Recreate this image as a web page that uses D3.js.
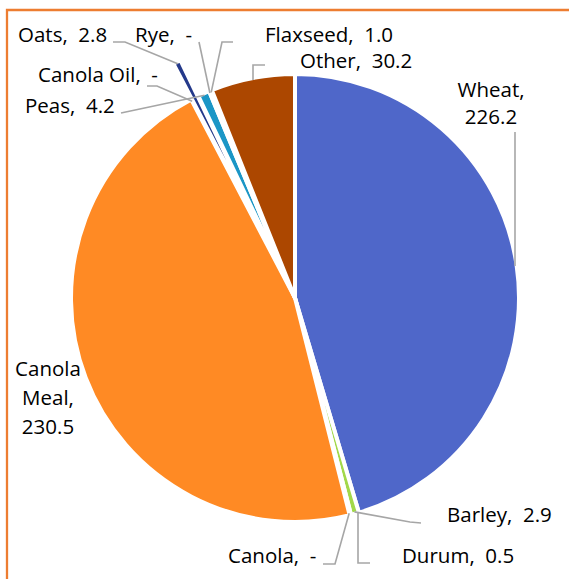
<!DOCTYPE html>
<html>
<head>
<meta charset="utf-8">
<script src="https://cdn.jsdelivr.net/npm/d3@7"></script>
<style>
  html, body { margin: 0; padding: 0; background: #fff; }
  svg { display: block; }
  text { font-family: "Open Sans", "Liberation Sans", sans-serif; font-size: 20.5px; fill: #000; }
</style>
</head>
<body>
<svg id="chart" width="569" height="579"></svg>
<script>
// ---- data ----
const categories = ["Wheat", "Barley", "Durum", "Canola", "Canola Meal", "Canola Oil", "Oats", "Peas", "Rye", "Flaxseed", "Other"];
const values     = [226.2, 2.9, 0.5, 0, 230.5, 0, 2.8, 4.2, 0, 1.0, 30.2];
const colors     = ["#4F67C9", "#A2D84A", "#7F7F7F", "#5B9BD5", "#FF8A24", "#FFC000", "#24398A", "#1B96C6", "#70AD47", "#FFFFFF", "#AC4700"];
const explodePx  = [0, 0, 0, 0, 0, 0, 40, 0, 0, 0, 0];

// ---- label layout (positions only) ----
const labelLayout = {
  "Wheat":       { lines: 2, x: 491, y: 97, anchor: "middle", lead: [[515, 132]], vertical: true },
  "Barley":      { x: 447, y: 522, anchor: "start", lead: [[421, 523], [410, 522]] },
  "Durum":       { x: 402, y: 563, anchor: "start", lead: [[370, 563], [358, 563]], vertical: true },
  "Canola":      { x: 228, y: 563, anchor: "start", lead: [[323, 564], [335, 564]] },
  "Canola Meal": { lines: 3, x: 48, y: 376, anchor: "middle", lead: null },
  "Canola Oil":  { x: 38, y: 82, anchor: "start", lead: [[147, 86], [157, 86]] },
  "Oats":        { x: 18, y: 42, anchor: "start", lead: [[113, 42], [125, 42]] },
  "Peas":        { x: 25, y: 113, anchor: "start", lead: [[121, 113]] },
  "Rye":         { x: 135, y: 42, anchor: "start", lead: [[199, 42]] },
  "Flaxseed":    { x: 265, y: 42, anchor: "start", lead: [[233, 42], [222, 42]] },
  "Other":       { x: 300, y: 68, anchor: "start", lead: [[265, 65], [253, 65]], vertical: true }
};

const fmt = v => v === 0 ? "-" : d3.format(".1f")(v);

const svg = d3.select("#chart");
const cx = 295, cy = 298, R = 224, Rvis = 222;

// frame (partially cropped)
svg.append("path")
  .attr("d", d3.line()([[7, 579], [7, 10], [569, 10]]))
  .attr("fill", "none").attr("stroke", "#ED7D31").attr("stroke-width", 2.3);

const data = categories.map((c, i) => ({ name: c, value: values[i], color: colors[i], explode: explodePx[i] }));
const pie = d3.pie().sort(null).value(d => d.value).startAngle(0).endAngle(2 * Math.PI);
const arcs = pie(data);
const arc = d3.arc().innerRadius(0).outerRadius(R);

const g = svg.append("g").attr("transform", `translate(${cx},${cy})`);

g.selectAll("path.slice")
  .data(arcs.filter(a => a.data.value > 0))
  .join("path")
  .attr("class", "slice")
  .attr("d", arc)
  .attr("transform", a => {
    const m = (a.startAngle + a.endAngle) / 2;
    return `translate(${a.data.explode * Math.sin(m)},${-a.data.explode * Math.cos(m)})`;
  })
  .attr("fill", a => a.data.color)
  .attr("stroke", "#fff")
  .attr("stroke-width", 4)
  .attr("stroke-linejoin", "round");

// labels and leader lines
arcs.forEach(a => {
  const L = labelLayout[a.data.name];
  const m = (a.startAngle + a.endAngle) / 2;
  const rr = Rvis + a.data.explode;
  const ax = cx + rr * Math.sin(m), ay = cy - rr * Math.cos(m);
  if (L.lead) {
    const pts = L.lead.map(p => p.slice());
    const last = pts[pts.length - 1];
    if (L.vertical) pts.push([last[0], ay]); else pts.push([ax, ay]);
    svg.append("path")
      .attr("d", d3.line()(pts))
      .attr("fill", "none").attr("stroke", "#A6A6A6").attr("stroke-width", 1.6);
  }
  let lines;
  if (L.lines === 2) lines = [a.data.name + ",", fmt(a.data.value)];
  else if (L.lines === 3) { const w = a.data.name.split(" "); lines = [w[0], w[1] + ",", fmt(a.data.value)]; }
  else lines = [a.data.name + ",\u00a0\u00a0" + fmt(a.data.value)];
  const lh = L.lines === 3 ? 29 : 27;
  const t = svg.append("text").attr("text-anchor", L.anchor);
  lines.forEach((s, i) => {
    t.append("tspan").attr("x", L.x).attr("y", L.y + i * lh).text(s);
  });
});
</script>
</body>
</html>
